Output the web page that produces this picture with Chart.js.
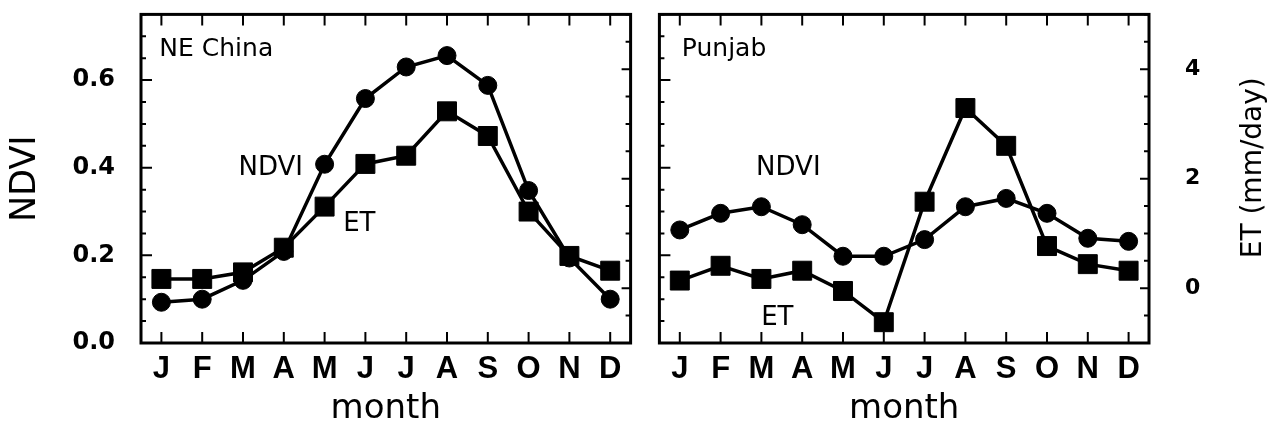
<!DOCTYPE html>
<html>
<head>
<meta charset="utf-8">
<script src="https://cdn.jsdelivr.net/npm/chart.js@4.4.1/dist/chart.umd.min.js"></script>
<style>
  body { margin: 0; background: #fff; width: 1281px; height: 430px; overflow: hidden; position: relative; }
  canvas { position: absolute; top: 0; }
  #left { left: 0; }
  #right { left: 645px; }
</style>
</head>
<body>
<canvas id="left" width="645" height="430"></canvas>
<canvas id="right" width="636" height="430"></canvas>
<script>
// Monthly climatology
const months = ['J', 'F', 'M', 'A', 'M', 'J', 'J', 'A', 'S', 'O', 'N', 'D'];

const neNdvi = [0.093, 0.100, 0.143, 0.209, 0.408, 0.558, 0.630, 0.656, 0.588, 0.348, 0.194, 0.100];
const neEt   = [0.17, 0.17, 0.29, 0.74, 1.49, 2.27, 2.42, 3.23, 2.78, 1.40, 0.59, 0.32];

const pjNdvi = [0.258, 0.296, 0.311, 0.270, 0.198, 0.198, 0.236, 0.311, 0.330, 0.296, 0.239, 0.232];
const pjEt   = [0.14, 0.41, 0.17, 0.32, -0.05, -0.62, 1.58, 3.29, 2.60, 0.77, 0.44, 0.32];

// axis ranges and labelled ticks
const ndviMin = 0, ndviMax = 0.75;
const ndviTicks = [0, 0.2, 0.4, 0.6];
const etMin = -1, etMax = 5;
const etTicks = [0, 2, 4];

// in-panel text, placed in data units (month index, NDVI)
const neLabels = [
    { text: 'NE China', x: -0.05, y: 0.671, align: 'left', size: 25 },
    { text: 'NDVI', x: 2.68, y: 0.399, align: 'center', size: 26 },
    { text: 'ET', x: 4.85, y: 0.271, align: 'center', size: 26 }
];
const pjLabels = [
    { text: 'Punjab', x: 0.05, y: 0.671, align: 'left', size: 25 },
    { text: 'NDVI', x: 2.66, y: 0.399, align: 'center', size: 26 },
    { text: 'ET', x: 2.39, y: 0.056, align: 'center', size: 26 }
];

Chart.defaults.color = '#000';
Chart.defaults.font.family = "'DejaVu Sans', sans-serif";

// frame with inward tick marks, plus the text inside the panels
const frameTicks = {
    id: 'frameTicks',
    beforeDatasetsDraw(chart) {
        const { ctx, chartArea: a, scales } = chart;
        ctx.save();
        ctx.strokeStyle = '#000';
        ctx.lineWidth = 2;
        ctx.beginPath();
        months.forEach((m, i) => {
            const px = scales.x.getPixelForValue(i);
            ctx.moveTo(px, a.bottom); ctx.lineTo(px, a.bottom - 11);
            ctx.moveTo(px, a.top); ctx.lineTo(px, a.top + 11);
        });
        for (let v = ndviMin; v <= ndviMax + 1e-9; v += 0.05) {
            const py = scales.y.getPixelForValue(v);
            const major = ndviTicks.some(t => Math.abs(t - v) < 1e-6);
            ctx.moveTo(a.left, py); ctx.lineTo(a.left + (major ? 11 : 5), py);
        }
        for (let v = etMin; v <= etMax + 1e-9; v += 0.5) {
            const py = scales.y2.getPixelForValue(v);
            const major = etTicks.some(t => Math.abs(t - v) < 1e-6);
            ctx.moveTo(a.right, py); ctx.lineTo(a.right - (major ? 9 : 5), py);
        }
        ctx.stroke();
        ctx.lineWidth = 3;
        ctx.strokeRect(a.left, a.top, a.width, a.height);
        ctx.restore();
    },
    afterDatasetsDraw(chart, args, opts) {
        const { ctx, scales } = chart;
        ctx.save();
        ctx.fillStyle = '#000';
        ctx.textBaseline = 'middle';
        (opts.labels || []).forEach(l => {
            ctx.font = l.size + "px 'DejaVu Sans'";
            ctx.textAlign = l.align;
            ctx.fillText(l.text, scales.x.getPixelForValue(l.x), scales.y.getPixelForValue(l.y));
        });
        if (opts.sideTitle) {
            const s = scales.y2;
            ctx.translate(s.right - 27, s.getPixelForValue(2.2));
            ctx.rotate(-Math.PI / 2);
            ctx.textAlign = 'center';
            ctx.font = "28px 'DejaVu Sans'";
            ctx.fillText(opts.sideTitle, 0, 0);
        }
        ctx.restore();
    }
};

// fixed axis box sizes, no extra edge padding from tick labels
function fixSize(prop, size) {
    return s => {
        s.paddingTop = 0; s.paddingBottom = 0; s.paddingLeft = 0; s.paddingRight = 0;
        if (s.options.display) s[prop] = size;
    };
}

function makePanel(id, ndvi, et, labels, isLeft) {
    const ctx = document.getElementById(id).getContext('2d');
    return new Chart(ctx, {
        type: 'line',
        data: {
            labels: months,
            datasets: [{
                data: ndvi,
                yAxisID: 'y',
                borderColor: '#000',
                backgroundColor: '#000',
                borderWidth: 3.5,
                pointStyle: 'circle',
                pointRadius: 9,
                pointBorderWidth: 1,
                tension: 0
            }, {
                data: et,
                yAxisID: 'y2',
                borderColor: '#000',
                backgroundColor: '#000',
                borderWidth: 3.5,
                pointStyle: 'rect',
                pointRadius: 13.4,
                pointBorderWidth: 1,
                tension: 0
            }]
        },
        options: {
            responsive: false,
            animation: false,
            devicePixelRatio: 1,
            layout: { padding: isLeft ? { top: 10, right: 8, left: 0, bottom: 0 } : { top: 10, left: 8, right: 0, bottom: 0 } },
            plugins: {
                legend: { display: false },
                tooltip: { enabled: false },
                frameTicks: { labels: labels, sideTitle: isLeft ? null : 'ET (mm/day)' }
            },
            scales: {
                x: {
                    offset: true,
                    grid: { display: false, drawTicks: false },
                    border: { display: false },
                    ticks: {
                        autoSkip: false, maxRotation: 0, padding: 8,
                        font: { family: "'Liberation Sans', Arial", size: 31, weight: 'bold' }
                    },
                    title: { display: true, text: 'month', font: { size: 34 }, padding: { top: 0, bottom: 0 } },
                    afterFit: fixSize('height', 87)
                },
                y: {
                    display: isLeft,
                    position: 'left',
                    min: ndviMin, max: ndviMax,
                    afterBuildTicks: s => { s.ticks = ndviTicks.map(v => ({ value: v })); },
                    grid: { display: false, drawTicks: false },
                    border: { display: false },
                    ticks: { padding: 26, font: { size: 24, weight: 'bold' }, callback: v => v.toFixed(1) },
                    title: { display: true, text: 'NDVI', font: { size: 35 }, padding: { top: 5, bottom: 0 } },
                    afterFit: fixSize('width', 141)
                },
                y2: {
                    display: !isLeft,
                    position: 'right',
                    min: etMin, max: etMax,
                    afterBuildTicks: s => { s.ticks = etTicks.map(v => ({ value: v })); },
                    grid: { display: false, drawTicks: false },
                    border: { display: false },
                    ticks: { padding: 36, font: { size: 22, weight: 'bold' } },
                    afterFit: fixSize('width', 132)
                }
            }
        },
        plugins: [frameTicks]
    });
}

makePanel('left', neNdvi, neEt, neLabels, true);
makePanel('right', pjNdvi, pjEt, pjLabels, false);
</script>
</body>
</html>
